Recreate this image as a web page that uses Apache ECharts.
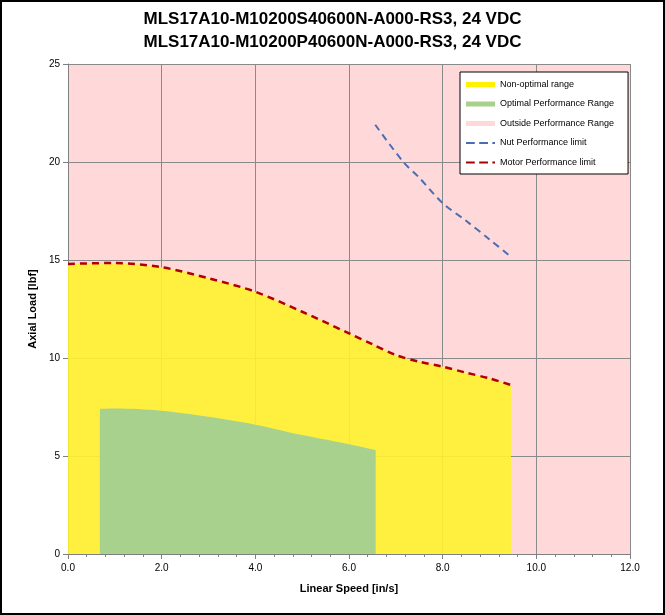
<!DOCTYPE html>
<html>
<head>
<meta charset="utf-8">
<script src="https://cdn.jsdelivr.net/npm/echarts@6/dist/echarts.min.js"></script>
<style>
html,body{margin:0;padding:0;background:#fff;}
#wrap{position:relative;width:665px;height:615px;}
#chart{position:absolute;left:0;top:0;width:665px;height:615px;}
#frame{position:absolute;left:0;top:0;width:665px;height:615px;box-sizing:border-box;border:2px solid #000;pointer-events:none;}
</style>
</head>
<body>
<div id="wrap"><div id="chart"></div><div id="frame"></div></div>
<script>
// ---- data ----
const titleLines = ['MLS17A10-M10200S40600N-A000-RS3, 24 VDC', 'MLS17A10-M10200P40600N-A000-RS3, 24 VDC'];
const xTicks = [0, 2, 4, 6, 8, 10, 12];
const yTicks = [0, 5, 10, 15, 20, 25];

const motorX = [0, 1, 2, 3, 4, 5, 6, 6.5, 7, 7.5, 8, 8.5, 9, 9.46];
const motorY = [14.8, 14.85, 14.63, 14.07, 13.38, 12.36, 11.26, 10.7, 10.15, 9.81, 9.56, 9.25, 8.96, 8.62];

const optimalX = [0.68, 1, 2, 3, 4, 5, 6, 6.57];
const optimalY = [7.4, 7.42, 7.31, 7.0, 6.6, 6.07, 5.6, 5.3];

const nutX = [6.56, 7.16, 7.5, 8.0, 8.5, 9.0, 9.44];
const nutY = [21.9, 20.0, 19.2, 17.9, 17.0, 16.05, 15.2];

const outsideX = [0, 12];
const outsideY = [25, 25];

const names = ['Non-optimal range', 'Optimal Performance Range', 'Outside Performance Range', 'Nut Performance limit', 'Motor Performance limit'];

const zip = (xs, ys) => xs.map((x, i) => [x, ys[i]]);

const FONT = '"Liberation Sans", Arial, sans-serif';
const DASH_ICON = 'path://M0,0h10v2.4h-10z M15,0h10v2.4h-10z M30,0h3v2.4h-3z';
const chart = echarts.init(document.getElementById('chart'), null, {renderer: 'canvas'});

chart.setOption({
  animation: false,
  backgroundColor: '#fff',
  title: {
    text: titleLines.join('\n'),
    left: 'center',
    top: 3,
    textStyle: {fontFamily: FONT, fontSize: 17, fontWeight: 'bold', color: '#000', lineHeight: 23}
  },
  grid: {left: 68, right: 35, top: 64, bottom: 61, show: false},
  legend: {
    orient: 'vertical',
    left: 460, top: 72,
    padding: [7, 14, 6, 6],
    itemWidth: 29, itemHeight: 5,
    itemGap: 8.5,
    backgroundColor: '#fff',
    borderColor: '#000', borderWidth: 1,
    textStyle: {fontFamily: FONT, fontSize: 9, color: '#000', lineHeight: 11, padding: [0, 0, 0, 0]},
    data: [
      {name: names[0], icon: 'rect', itemStyle: {color: '#FFF200'}},
      {name: names[1], icon: 'rect', itemStyle: {color: '#A9D18E'}},
      {name: names[2], icon: 'rect', itemStyle: {color: '#FFD9DA'}},
      {name: names[3], icon: DASH_ICON, itemStyle: {color: '#4A6DB3'}},
      {name: names[4], icon: DASH_ICON, itemStyle: {color: '#A80000'}}
    ]
  },
  xAxis: {
    type: 'value', min: 0, max: 12, interval: 2, z: 1.5,
    name: 'Linear Speed [in/s]', nameLocation: 'middle', nameGap: 29,
    nameTextStyle: {fontFamily: FONT, fontSize: 11, fontWeight: 'bold', color: '#000'},
    axisLine: {show: true, onZero: false, lineStyle: {color: '#7f7f7f', width: 1}},
    axisTick: {show: true, length: 5, lineStyle: {color: '#7f7f7f'}},
    minorTick: {show: true, splitNumber: 5, length: 3, lineStyle: {color: '#7f7f7f'}},
    axisLabel: {fontFamily: FONT, fontSize: 10, color: '#000', margin: 9,
      formatter: v => xTicks.includes(v) ? v.toFixed(1) : ''},
    splitLine: {show: true, lineStyle: {color: '#8a8a8a', width: 1}}
  },
  yAxis: {
    type: 'value', min: 0, max: 25, interval: 5, z: 1.5,
    name: 'Axial Load [lbf]', nameLocation: 'middle', nameGap: 26, nameRotate: 90,
    nameTextStyle: {fontFamily: FONT, fontSize: 11, fontWeight: 'bold', color: '#000'},
    axisLine: {show: true, onZero: false, lineStyle: {color: '#7f7f7f', width: 1}},
    axisTick: {show: true, length: 5, lineStyle: {color: '#7f7f7f'}},
    axisLabel: {fontFamily: FONT, fontSize: 10, color: '#000', margin: 8,
      formatter: v => yTicks.includes(v) ? String(v) : ''},
    splitLine: {show: true, lineStyle: {color: '#8a8a8a', width: 1}}
  },
  series: [
    {
      name: names[2], type: 'line', z: 1, symbol: 'none',
      data: zip(outsideX, outsideY),
      lineStyle: {width: 0, color: '#FFD9DA'},
      itemStyle: {color: '#FFD9DA'},
      areaStyle: {color: '#FFD9DA', opacity: 1}
    },
    {
      name: names[0], type: 'line', z: 2, symbol: 'none', smooth: 0.3,
      data: zip(motorX, motorY),
      lineStyle: {width: 0, color: '#FFF200'},
      itemStyle: {color: '#FFF200'},
      areaStyle: {color: '#FFF22E', opacity: 0.9}
    },
    {
      name: names[1], type: 'line', z: 3, symbol: 'none', smooth: 0.3,
      data: zip(optimalX, optimalY),
      lineStyle: {width: 0, color: '#A9D18E'},
      itemStyle: {color: '#A9D18E'},
      areaStyle: {color: '#A9D18E', opacity: 1}
    },
    {
      name: names[3], type: 'line', z: 4, symbol: 'none', smooth: 0.3,
      data: zip(nutX, nutY),
      itemStyle: {color: '#4A6DB3'},
      lineStyle: {color: '#4A6DB3', width: 2, type: [7, 5]}
    },
    {
      name: names[4], type: 'line', z: 4, symbol: 'none', smooth: 0.3,
      data: zip(motorX, motorY),
      itemStyle: {color: '#B00000'},
      lineStyle: {color: '#B00000', width: 2.5, type: [7, 5]}
    }
  ]
});
</script>
</body>
</html>
